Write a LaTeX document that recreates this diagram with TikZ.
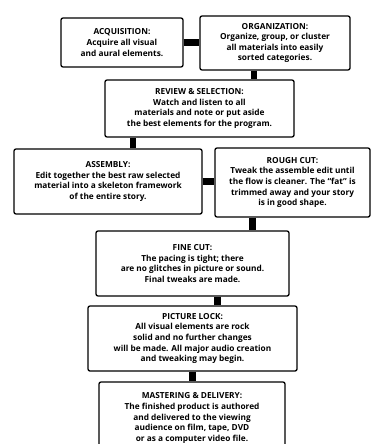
\documentclass[tikz,border=0pt]{standalone}
\usepackage{fontspec}
\setmainfont{Open Sans}
\usetikzlibrary{positioning}

\begin{document}
\begin{tikzpicture}[x=1pt, y=-1pt,
    box/.style={draw, line width=1.3pt, rounded corners=2pt, align=center, inner sep=0pt,
        font=\bfseries\fontsize{8.3}{10.6}\selectfont},
    link/.style={line width=6.5pt}]
    \useasboundingbox (0,0) rectangle (371,444);
    \clip (0,0) rectangle (371,444);

    \node[box, minimum width=122, minimum height=49] (acq) at (122,42.5)
        {ACQUISITION:\\Acquire all visual\\and aural elements.};
    \node[box, minimum width=150, minimum height=54] (org) at (275,43)
        {ORGANIZATION:\\Organize, group, or cluster\\all materials into easily\\sorted categories.};
    \node[box, minimum width=189, minimum height=57] (rev) at (199.5,108.5)
        {REVIEW \& SELECTION:\\Watch and listen to all\\materials and note or put aside\\the best elements for the program.};
    \node[box, minimum width=188, minimum height=65] (asm) at (108,181.5)
        {ASSEMBLY:\\Edit together the best raw selected\\material into a skeleton framework\\of the entire story.};
    \node[box, minimum width=155, minimum height=69] (rgh) at (292.5,182.5)
        {ROUGH CUT:\\Tweak the assemble edit until\\the flow is cleaner. The ``fat'' is\\trimmed away and your story\\is in good shape.};
    \node[box, minimum width=193, minimum height=65] (fin) at (192.5,263.5)
        {FINE CUT:\\The pacing is tight; there\\are no glitches in picture or sound.\\Final tweaks are made.};
    \node[box, minimum width=209, minimum height=65] (pic) at (192.5,338.5)
        {PICTURE LOCK:\\All visual elements are rock\\solid and no further changes\\will be made. All major audio creation\\and tweaking may begin.};
    \node[box, minimum width=186, minimum height=70, text depth=0pt] (mst) at (192,417)
        {MASTERING \& DELIVERY:\\The finished product is authored\\and delivered to the viewing\\audience on film, tape, DVD\\or as a computer video file.};

    % thick bars between the steps
    \draw[link] (acq.east) -- (acq.east -| org.west);
    \draw[link] ([xshift=-21pt]org.south) -- ([xshift=-21pt]org.south |- rev.north);
    \draw[link] ([xshift=25pt]asm.north) -- ([xshift=25pt]asm.north |- rev.south);
    \draw[link] (asm.east) -- (asm.east -| rgh.west);
    \draw[link] ([xshift=-40pt]rgh.south) -- ([xshift=-40pt]rgh.south |- fin.north);
    \draw[link] ([xshift=25pt]fin.south) -- ([xshift=25pt]fin.south |- pic.north);
    \draw[link] (pic.south) -- (pic.south |- mst.north);
\end{tikzpicture}
\end{document}
